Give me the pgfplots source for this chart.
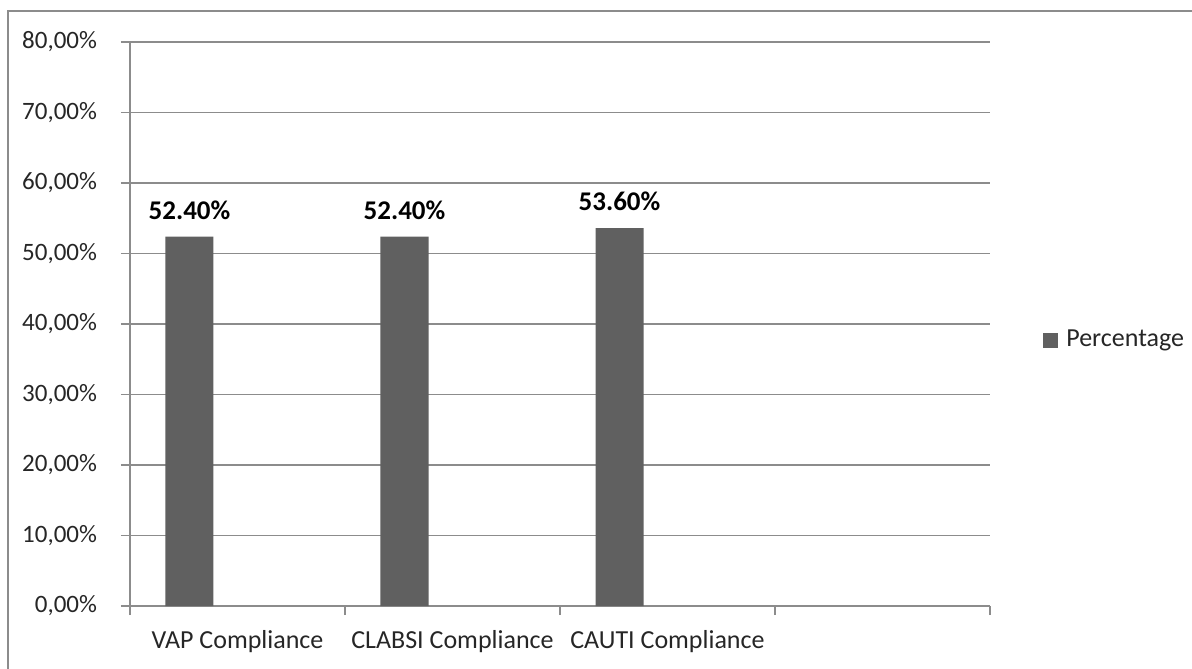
\documentclass[border=0pt]{standalone}
\usepackage{fontspec}
\setmainfont{Carlito}
\usepackage{pgfplots}
\pgfplotsset{compat=1.18}
\definecolor{barc}{HTML}{606060}
\definecolor{gridc}{HTML}{8C8C8C}
\definecolor{txt}{HTML}{262626}
\begin{document}
\begin{tikzpicture}
\path[use as bounding box] (-65bp,-31.5bp) rectangle (531bp,303bp);
\draw[gridc, line width=0.6bp] (-61bp,-40bp) rectangle (545bp,297.5bp);
\begin{axis}[
  at={(0,0)}, anchor=south west,
  scale only axis, width=430bp, height=282bp,
  ymin=0, ymax=0.8, xmin=-0.5, xmax=3.5,
  ytick={0,0.1,0.2,0.3,0.4,0.5,0.6,0.7,0.8},
  yticklabels={{0,00\%},{10,00\%},{20,00\%},{30,00\%},{40,00\%},{50,00\%},{60,00\%},{70,00\%},{80,00\%}},
  ymajorgrids, major grid style={gridc, line width=0.6bp},
  axis x line*=bottom, axis y line*=left,
  axis line style={gridc, line width=0.6bp, -},
  tick align=outside, major tick length=4.5bp,
  ytick style={gridc, line width=0.6bp},
  xtick={0,1,2},
  xticklabels={VAP Compliance, CLABSI Compliance, CAUTI Compliance},
  xtick style={draw=none},
  extra x ticks={-0.5,0.5,1.5,2.5,3.5},
  extra x tick labels={},
  extra x tick style={grid=none, xtick style={draw=gridc, line width=0.6bp}},
  tick label style={font=\fontsize{13bp}{15bp}\selectfont, text=txt},
  xticklabel style={yshift=-4bp},
  yticklabel style={xshift=-8.5bp, font=\fontsize{12.5bp}{15bp}\selectfont},
  ybar, bar width=24bp,
  nodes near coords, point meta=explicit symbolic,
  every node near coord/.append style={font=\bfseries\fontsize{13.5bp}{16bp}\selectfont, text=black, yshift=5bp},
  legend style={at={(1.0616,0.4716)}, anchor=west, draw=none, fill=none, inner sep=0pt,
    font=\fontsize{13bp}{15bp}\selectfont, text=txt},
  clip=false,
]
\addplot[fill=barc, draw=none, bar shift=-24bp,
  legend image code/.code={\fill[barc] (0bp,-3.75bp) rectangle (7.5bp,3.75bp);\path (9.5bp,0bp);}]
  coordinates {(0,0.524)[52.40\%] (1,0.524)[52.40\%] (2,0.536)[53.60\%]};
\addlegendentry{Percentage}
\end{axis}
\end{tikzpicture}
\end{document}
